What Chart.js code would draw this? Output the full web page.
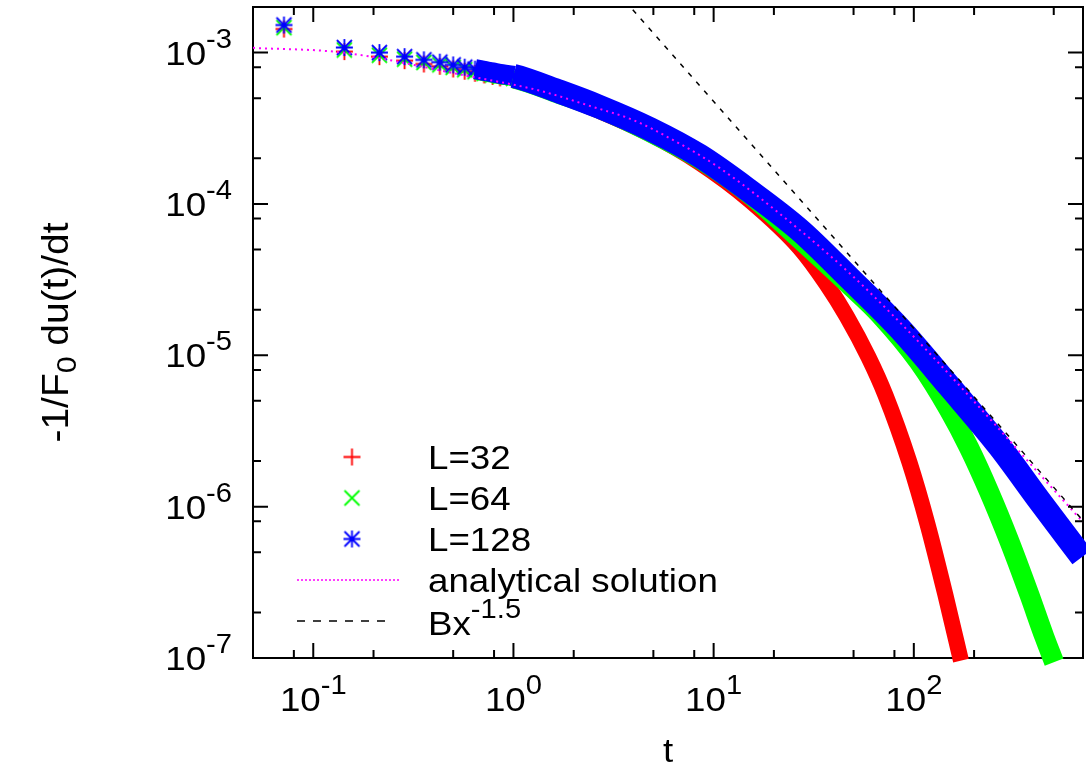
<!DOCTYPE html>
<html>
<head>
<meta charset="utf-8">
<script src="https://cdn.jsdelivr.net/npm/chart.js@4.4.0/dist/chart.umd.min.js"></script>
<style>
  html, body { margin: 0; padding: 0; background: #fff; }
  #wrap { width: 1086px; height: 772px; }
</style>
</head>
<body>
<div id="wrap"><canvas id="chart" width="1086" height="772"></canvas></div>
<script>
// ---- values ----
const xTicks = [0.1, 1, 10, 100];
const xTickExp = ['-1', '0', '1', '2'];
const yTicks = [1e-7, 1e-6, 1e-5, 1e-4, 1e-3];
const yTickExp = ['-7', '-6', '-5', '-4', '-3'];
const minorSteps = [2, 5, 8];

// L=128 (blue stars)
const t128 = [0.0714, 0.143, 0.214, 0.286, 0.357, 0.429, 0.5, 0.571, 0.643, 0.714, 0.786, 0.857, 1.0,
              1.71, 2.70, 4.80, 8.51, 15.1, 26.9, 47.6, 84.7, 150, 267, 423, 692];
const v128 = [1.52e-3, 1.08e-3, 1.00e-3, 9.4e-4, 8.95e-4, 8.64e-4, 8.29e-4, 8.01e-4, 7.77e-4, 7.57e-4, 7.40e-4, 7.23e-4, 7.02e-4,
              5.50e-4, 4.37e-4, 3.13e-4, 2.08e-4, 1.22e-4, 6.73e-5, 3.24e-5, 1.51e-5, 6.26e-6, 2.51e-6, 1.10e-6, 4.64e-7];

// L=64 (green crosses)
const t64 = [0.0714, 0.143, 0.214, 0.286, 0.357, 0.429, 0.5, 0.571, 0.643, 0.714, 0.786, 0.857, 1.0,
             1.71, 2.70, 4.80, 8.51, 15.1, 26.9, 47.6, 67.3, 106, 150, 189, 238, 300, 377, 448, 502];
const v64 = [1.46e-3, 1.04e-3, 9.6e-4, 9.05e-4, 8.6e-4, 8.3e-4, 7.98e-4, 7.7e-4, 7.48e-4, 7.29e-4, 7.12e-4, 6.96e-4, 6.75e-4,
             5.30e-4, 4.25e-4, 2.98e-4, 1.98e-4, 1.16e-4, 5.85e-5, 2.91e-5, 1.87e-5, 9.03e-6, 4.35e-6, 2.44e-6, 1.25e-6, 5.92e-7, 2.64e-7, 1.39e-7, 9.4e-8];

// L=32 (red plus)
const t32 = [0.0714, 0.143, 0.214, 0.286, 0.357, 0.429, 0.5, 0.571, 0.643, 0.714, 0.786, 0.857, 1.0,
             1.71, 2.70, 4.80, 8.51, 15.1, 26.9, 36.6, 46.1, 59.3, 72.1, 95.0, 117, 143.5, 172];
const v32 = [1.43e-3, 1.015e-3, 9.4e-4, 8.84e-4, 8.41e-4, 8.12e-4, 7.79e-4, 7.53e-4, 7.3e-4, 7.12e-4, 6.96e-4, 6.8e-4, 6.6e-4,
             5.20e-4, 4.10e-4, 2.90e-4, 1.87e-4, 1.06e-4, 5.12e-5, 2.96e-5, 1.82e-5, 9.75e-6, 5.47e-6, 1.97e-6, 7.67e-7, 2.64e-7, 9.6e-8];

// analytical solution (magenta dotted)
const tAnalytic = [0.05, 0.14, 0.56, 1.31, 2.49, 3.95, 6.25, 10.7, 26.9, 47.6, 78.2, 119, 212, 408, 700];
const vAnalytic = [1.074e-3, 1.0e-3, 7.1e-4, 5.66e-4, 4.38e-4, 3.59e-4, 2.65e-4, 1.73e-4, 6.73e-5, 3.50e-5, 1.85e-5, 1.04e-5, 4.55e-6, 1.74e-6, 7.9e-7];

// B x^-1.5 (black dashed)
const tPower = [3.0, 700];
const vPower = [2.89e-3, 8.1e-7];

const markerUntil = 1.0;   // separate symbols are visible up to here
const bandFrom = 0.643;    // after this the symbols merge into a solid band
const thinUntil = 1.0;     // the band is a bit thinner at the start

const FONT = '"Liberation Sans", Arial, Helvetica, sans-serif';
const MAIN = '34px ' + FONT;
const SUP = '27px ' + FONT;
const TITLE = '36px ' + FONT;
const TITLE_SUB = '28px ' + FONT;
const SX = 1.08;           // the original lettering is slightly wider

function pts(t, v) {
    return t.map((x, i) => ({ x: x, y: v[i] }));
}

// gnuplot style point symbols
function makeMarker(kind, color) {
    const c = document.createElement('canvas');
    c.width = 19; c.height = 19;
    const g = c.getContext('2d');
    g.strokeStyle = color;
    g.lineWidth = 1.8;
    g.beginPath();
    if (kind === '+' || kind === '*') {
        g.moveTo(9.5, 1); g.lineTo(9.5, 18);
        g.moveTo(1, 9.5); g.lineTo(18, 9.5);
    }
    if (kind === 'x' || kind === '*') {
        g.moveTo(2, 2); g.lineTo(17, 17);
        g.moveTo(17, 2); g.lineTo(2, 17);
    }
    g.stroke();
    return c;
}

const mPlus = makeMarker('+', '#ff0000');
const mCross = makeMarker('x', '#00ff00');
const mStar = makeMarker('*', '#0000ff');

function bandSet(label, t, v, color, marker, width, order) {
    return {
        label: label,
        data: pts(t, v),
        borderColor: color,
        backgroundColor: color,
        borderWidth: width,
        borderJoinStyle: 'round',
        cubicInterpolationMode: 'monotone',
        pointStyle: marker,
        pointRadius: ctx => (ctx.raw && ctx.raw.x <= markerUntil ? 9 : 0),
        pointHoverRadius: 0,
        segment: {
            borderColor: ctx => (ctx.p0.parsed.x < bandFrom ? 'rgba(0,0,0,0)' : color),
            borderWidth: ctx => (ctx.p0.parsed.x < thinUntil ? width - 4 : width)
        },
        clip: { left: 0, top: 0, right: 3, bottom: 8 },
        order: order
    };
}

function textWidth(ctx, s, font) {
    ctx.font = font;
    return ctx.measureText(s).width * SX;
}

function stretchText(ctx, s, x, y, font) {
    ctx.save();
    ctx.font = font;
    ctx.textAlign = 'left';
    ctx.textBaseline = 'alphabetic';
    ctx.translate(x, y);
    ctx.scale(SX, 1);
    ctx.fillText(s, 0, 0);
    ctx.restore();
}

// superscripted "10^n" style labels
function drawPower(ctx, base, exp, x, y, align) {
    const wb = textWidth(ctx, base, MAIN);
    const we = textWidth(ctx, exp, SUP);
    const w = wb + we;
    let x0 = x;
    if (align === 'center') x0 = x - w / 2;
    if (align === 'right') x0 = x - w;
    stretchText(ctx, base, x0, y, MAIN);
    stretchText(ctx, exp, x0 + wb, y - 17, SUP);
}

const framePlugin = {
    id: 'frame',
    beforeDatasetsDraw(chart) {
        const { ctx, chartArea: a, scales } = chart;
        ctx.save();
        ctx.strokeStyle = '#000';
        ctx.lineWidth = 2;
        ctx.strokeRect(a.left, a.top, a.right - a.left, a.bottom - a.top);

        ctx.beginPath();
        const tickX = (v, len) => {
            const px = scales.x.getPixelForValue(v);
            if (px <= a.left + 1 || px >= a.right - 1) return;
            ctx.moveTo(px, a.bottom); ctx.lineTo(px, a.bottom - len);
            ctx.moveTo(px, a.top); ctx.lineTo(px, a.top + len);
        };
        const tickY = (v, len) => {
            const py = scales.y.getPixelForValue(v);
            if (py <= a.top + 1 || py >= a.bottom - 1) return;
            ctx.moveTo(a.left, py); ctx.lineTo(a.left + len, py);
            ctx.moveTo(a.right, py); ctx.lineTo(a.right - len, py);
        };
        [0.01].concat(xTicks).forEach(d => {
            tickX(d, 15);
            minorSteps.forEach(m => tickX(d * m, 8));
        });
        [1e-8].concat(yTicks).forEach(d => {
            tickY(d, 15);
            minorSteps.forEach(m => tickY(d * m, 8));
        });
        ctx.stroke();
        ctx.restore();
    },
    afterDraw(chart) {
        const { ctx, chartArea: a, scales } = chart;
        ctx.save();
        ctx.fillStyle = '#000';

        // tick labels
        xTicks.forEach((v, i) => {
            drawPower(ctx, '10', xTickExp[i], scales.x.getPixelForValue(v), 711, 'center');
        });
        yTicks.forEach((v, i) => {
            drawPower(ctx, '10', yTickExp[i], 232, scales.y.getPixelForValue(v) + 12, 'right');
        });

        // axis titles
        const tw = textWidth(ctx, 't', MAIN);
        stretchText(ctx, 't', (a.left + a.right) / 2 - tw / 2, 762, MAIN);

        ctx.save();
        ctx.translate(68, (a.top + a.bottom) / 2);
        ctx.rotate(-Math.PI / 2);
        const p1 = '-1/F', p3 = ' du(t)/dt';
        const w1 = textWidth(ctx, p1, TITLE), w3 = textWidth(ctx, p3, TITLE);
        const w2 = textWidth(ctx, '0', TITLE_SUB);
        const x0 = -(w1 + w2 + w3) / 2;
        stretchText(ctx, p1, x0, 0, TITLE);
        stretchText(ctx, '0', x0 + w1, 8, TITLE_SUB);
        stretchText(ctx, p3, x0 + w1 + w2, 0, TITLE);
        ctx.restore();

        // legend
        const rows = [457, 498, 539, 580, 621];
        const textX = 428;
        [mPlus, mCross, mStar].forEach((m, i) => {
            ctx.drawImage(m, 352 - 9.5, rows[i] - 9.5);
        });
        ctx.lineWidth = 1.5;
        ctx.strokeStyle = '#ff00ff';
        ctx.setLineDash([2, 2]);
        ctx.beginPath(); ctx.moveTo(297, rows[3]); ctx.lineTo(401, rows[3]); ctx.stroke();
        ctx.strokeStyle = '#000';
        ctx.setLineDash([8, 8]);
        ctx.beginPath(); ctx.moveTo(297, rows[4]); ctx.lineTo(393, rows[4]); ctx.stroke();
        ctx.setLineDash([]);

        ['L=32', 'L=64', 'L=128', 'analytical solution'].forEach((s, i) => {
            stretchText(ctx, s, textX, rows[i] + 12, MAIN);
        });
        drawPower(ctx, 'Bx', '-1.5', textX, rows[4] + 14, 'left');
        ctx.restore();
    }
};

new Chart(document.getElementById('chart'), {
    type: 'line',
    data: {
        datasets: [
            {
                label: 'Bx^-1.5',
                data: pts(tPower, vPower),
                borderColor: '#000000',
                borderWidth: 1.5,
                borderDash: [5, 7],
                pointRadius: 0,
                order: 0
            },
            {
                label: 'analytical solution',
                data: pts(tAnalytic, vAnalytic),
                borderColor: '#ff00ff',
                borderWidth: 2,
                borderDash: [2, 4],
                cubicInterpolationMode: 'monotone',
                pointRadius: 0,
                order: 1
            },
            bandSet('L=128', t128, v128, '#0000ff', mStar, 24, 2),
            bandSet('L=64', t64, v64, '#00ff00', mCross, 20, 3),
            bandSet('L=32', t32, v32, '#ff0000', mPlus, 16, 4)
        ]
    },
    options: {
        responsive: false,
        animation: false,
        devicePixelRatio: 1,
        layout: { autoPadding: false, padding: { left: 253, top: 7, right: 3, bottom: 114 } },
        plugins: {
            legend: { display: false },
            tooltip: { enabled: false }
        },
        scales: {
            x: { type: 'logarithmic', min: 0.05, max: 700, display: false },
            y: { type: 'logarithmic', min: 1e-7, max: 2e-3, display: false }
        }
    },
    plugins: [framePlugin]
});
</script>
</body>
</html>
